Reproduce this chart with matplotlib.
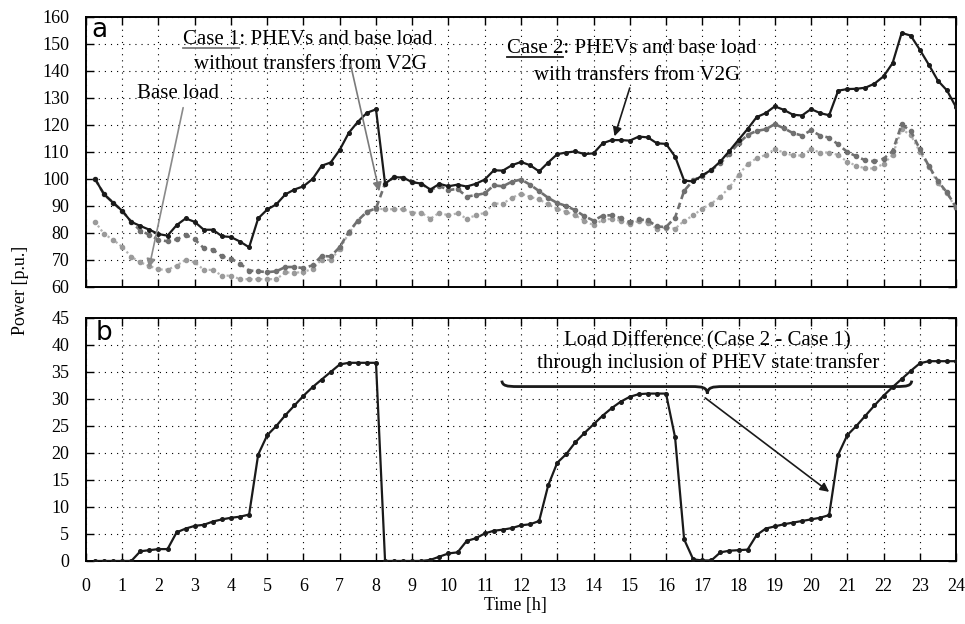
"""
PHEV load profiles: base load, case 1 (no V2G transfer), case 2 (with V2G transfer)
and the difference between case 2 and case 1.
"""

import numpy as np
import matplotlib
matplotlib.use("Agg")
import matplotlib.pyplot as plt
from matplotlib.lines import Line2D
from matplotlib.path import Path
from matplotlib.patches import PathPatch

# sample times, every 15 minutes
hours = np.arange(0.25, 24.01, 0.25)

# Case 2: PHEVs and base load with transfers from V2G (solid black)
case2 = [
    100.0, 94.3, 91.2, 88.2, 84.1, 82.6, 81.2, 79.6,
    79.0, 82.9, 85.4, 84.1, 81.2, 81.2, 78.8, 78.5,
    76.8, 74.7, 85.4, 88.7, 90.6, 94.3, 96.1, 97.3,
    100.0, 104.9, 106.1, 110.8, 117.1, 121.2, 124.5, 125.8,
    98.3, 100.7, 100.5, 98.8, 98.3, 96.1, 98.2, 97.3,
    97.9, 97.2, 98.2, 99.8, 103.2, 103.1, 105.1, 106.3,
    105.1, 102.8, 106.1, 109.2, 109.8, 110.2, 109.2, 109.5,
    113.2, 114.4, 114.4, 114.2, 115.7, 115.4, 113.2, 113.0,
    108.3, 99.4, 99.1, 101.3, 103.4, 106.5, 110.4, 114.5,
    118.5, 122.9, 124.4, 126.9, 125.6, 123.8, 123.5, 125.9,
    124.4, 123.6, 132.7, 133.3, 133.4, 133.8, 135.3, 138.0,
    142.9, 154.1, 153.1, 147.9, 142.3, 136.4, 132.8, 126.6,
]

# Case 1: PHEVs and base load without transfers from V2G (dashed grey)
case1 = [
    100.0, 94.3, 91.2, 88.2, 84.1, 80.9, 79.3, 77.5,
    76.9, 77.6, 79.3, 77.6, 74.4, 73.8, 71.3, 70.5,
    68.6, 66.1, 65.8, 65.5, 65.8, 67.4, 67.4, 67.0,
    68.0, 71.5, 71.3, 74.8, 80.4, 84.6, 87.9, 89.1,
    98.3, 100.7, 100.5, 98.8, 98.3, 95.9, 97.4, 95.9,
    96.3, 93.5, 94.0, 94.7, 97.6, 97.3, 99.0, 99.8,
    97.9, 95.5, 93.0, 91.1, 90.0, 88.4, 86.2, 84.6,
    86.4, 86.6, 85.5, 84.0, 85.0, 84.7, 82.4, 82.2,
    85.7, 95.6, 99.5, 101.2, 103.3, 105.8, 109.4, 113.2,
    116.3, 117.8, 118.4, 120.3, 118.8, 117.0, 116.1, 118.0,
    116.1, 115.3, 112.8, 110.0, 108.4, 106.9, 106.5, 107.5,
    110.3, 120.2, 117.8, 111.1, 104.8, 99.2, 95.0, 89.5,
]

# Base load (dotted light grey)
base_load = [
    84.2, 79.6, 77.5, 74.8, 71.2, 69.1, 67.8, 66.5,
    66.4, 67.9, 70.1, 69.1, 66.4, 66.3, 64.2, 64.2,
    62.9, 62.9, 62.9, 62.9, 62.9, 65.4, 65.3, 65.5,
    66.8, 70.1, 70.0, 74.1, 79.9, 84.5, 87.8, 89.0,
    88.8, 88.8, 88.8, 87.5, 87.5, 85.3, 87.5, 86.5,
    87.3, 85.3, 86.5, 87.5, 90.9, 90.9, 93.0, 94.6,
    93.4, 92.4, 90.6, 89.0, 87.8, 86.5, 84.5, 82.9,
    84.8, 85.3, 84.5, 83.2, 84.5, 83.8, 81.6, 82.0,
    81.6, 84.5, 86.5, 89.0, 90.9, 93.4, 96.9, 101.5,
    105.5, 107.7, 108.9, 111.0, 109.8, 108.7, 108.7, 111.0,
    109.8, 109.8, 108.9, 106.4, 104.9, 103.9, 103.9, 105.6,
    108.9, 118.4, 116.3, 110.1, 104.6, 98.4, 94.7, 89.1,
]

# Load difference (Case 2 - Case 1)
load_diff = [
    0.0, 0.0, 0.0, 0.0, 0.0, 1.8, 2.0, 2.2,
    2.2, 5.3, 6.0, 6.5, 6.7, 7.3, 7.7, 8.0,
    8.2, 8.6, 19.7, 23.3, 25.0, 27.0, 28.8, 30.6,
    32.2, 33.6, 35.0, 36.4, 36.7, 36.7, 36.7, 36.7,
    0.0, 0.0, 0.0, 0.0, 0.0, 0.2, 0.8, 1.4,
    1.6, 3.7, 4.2, 5.1, 5.6, 5.8, 6.1, 6.6,
    6.8, 7.4, 14.0, 18.2, 19.8, 22.0, 23.7, 25.3,
    26.9, 28.3, 29.5, 30.4, 30.9, 31.0, 31.0, 31.0,
    22.9, 4.0, 0.3, 0.1, 0.1, 1.6, 1.9, 2.0,
    2.1, 4.8, 6.0, 6.4, 6.8, 7.1, 7.4, 7.7,
    8.0, 8.5, 19.7, 23.3, 25.0, 26.9, 28.8, 30.6,
    32.2, 33.7, 35.2, 36.6, 37.0, 37.0, 37.0, 37.0,
]

plt.rcParams["font.family"] = "Liberation Serif"
FS = 15

fig = plt.figure(figsize=(9.65, 6.24), dpi=100)
ax1 = fig.add_axes([0.0891, 0.5401, 0.9016, 0.4327])
ax2 = fig.add_axes([0.0891, 0.101, 0.9016, 0.3894])

# --- top panel: load curves ---
ax1.plot(hours, base_load, color="#b4b4b4", ls=(0, (1, 1.2)), lw=1.6,
         marker="o", ms=3, mfc="#9a9a9a", mec="#9a9a9a", zorder=2)
ax1.plot(hours, case1, color="#707070", ls=(0, (2.5, 1.5)), lw=1.9,
         marker="o", ms=3, mfc="#707070", mec="#707070", zorder=3)
ax1.plot(hours, case2, color="#1a1a1a", lw=1.6,
         marker="o", ms=2.6, mfc="#1a1a1a", mec="#1a1a1a", zorder=4)

# --- bottom panel: difference ---
ax2.plot(hours, load_diff, color="#1a1a1a", lw=1.6,
         marker="o", ms=2.6, mfc="#1a1a1a", mec="#1a1a1a", zorder=4)

for ax in (ax1, ax2):
    ax.set_xlim(0, 24)
    ax.set_xticks(range(0, 25))
    ax.grid(True, color="black", ls=(0, (1, 4.5)), lw=0.8)
    ax.tick_params(direction="in", top=True, right=True, length=6, width=1,
                   labelsize=13)
    ax.tick_params(axis="y", pad=12)
    for sp in ax.spines.values():
        sp.set_linewidth(1.4)

ax1.set_ylim(60, 160)
ax1.set_yticks(range(60, 161, 10))
ax1.tick_params(labelbottom=False)

ax2.set_ylim(0, 45)
ax2.set_yticks(range(0, 46, 5))
ax2.tick_params(axis="x", pad=12)

ax1.text(0.006, 0.926, "a", transform=ax1.transAxes, family="DejaVu Sans",
         fontsize=19, va="baseline", ha="left")
ax2.text(0.011, 0.909, "b", transform=ax2.transAxes, family="DejaVu Sans",
         fontsize=19, va="baseline", ha="left")

fig.text(0.021, 0.535, "Power [p.u.]", rotation=90, ha="center", va="center", fontsize=13)
fig.text(0.534, 0.03, "Time [h]", ha="center", va="center", fontsize=13)

# --- annotations, top panel ---
c1_line1 = ax1.text(6.11, 150.0, "Case 1: PHEVs and base load", ha="center",
                    va="baseline", fontsize=FS)
ax1.text(6.18, 140.7, "without transfers from V2G", ha="center", va="baseline", fontsize=FS)
c2_line1 = ax1.text(15.06, 146.8, "Case 2: PHEVs and base load", ha="center",
                    va="baseline", fontsize=FS)
ax1.text(15.2, 136.8, "with transfers from V2G", ha="center", va="baseline", fontsize=FS)
ax1.text(2.54, 130.1, "Base load", ha="center", va="baseline", fontsize=FS)

arrow_kw = dict(arrowstyle="-|>", lw=1.2, shrinkA=0, shrinkB=0, mutation_scale=13)
ax1.annotate("", xy=(1.74, 67.1), xytext=(2.68, 126.4),
             arrowprops=dict(color="#8a8a8a", **arrow_kw), zorder=6)
ax1.annotate("", xy=(8.09, 95.4), xytext=(7.30, 142.3),
             arrowprops=dict(color="#7a7a7a", **arrow_kw), zorder=6)
ax1.annotate("", xy=(14.58, 115.8), xytext=(15.0, 133.7),
             arrowprops=dict(color="#1a1a1a", **arrow_kw), zorder=6)

# --- annotations, bottom panel ---
ax2.text(17.14, 40.0, "Load Difference (Case 2 - Case 1)", ha="center",
         va="baseline", fontsize=FS)
ax2.text(17.17, 35.7, "through inclusion of PHEV state transfer", ha="center",
         va="baseline", fontsize=FS)

# curly brace spanning the second charging period
xl, xr, xc = 11.47, 22.78, 17.14
ytop, ymid, ytip = 33.4, 32.3, 31.0
verts = [
    (xl, ytop), (xl + 0.02, ymid + 0.15), (xl + 0.12, ymid), (xl + 0.45, ymid),
    (xc - 0.45, ymid),
    (xc - 0.12, ymid), (xc - 0.02, ymid - 0.15), (xc, ytip),
    (xc + 0.02, ymid - 0.15), (xc + 0.12, ymid), (xc + 0.45, ymid),
    (xr - 0.45, ymid),
    (xr - 0.12, ymid), (xr - 0.02, ymid + 0.15), (xr, ytop),
]
codes = [Path.MOVETO, Path.CURVE4, Path.CURVE4, Path.CURVE4,
         Path.LINETO,
         Path.CURVE4, Path.CURVE4, Path.CURVE4,
         Path.CURVE4, Path.CURVE4, Path.CURVE4,
         Path.LINETO,
         Path.CURVE4, Path.CURVE4, Path.CURVE4]
ax2.add_patch(PathPatch(Path(verts, codes), fill=False, lw=2.0, color="#1a1a1a", zorder=5))
ax2.annotate("", xy=(20.5, 12.8), xytext=(17.08, 30.2),
             arrowprops=dict(color="#1a1a1a", **arrow_kw), zorder=6)


def underline_prefix(ax, txt, prefix, color):
    renderer = fig.canvas.get_renderer()
    bb = txt.get_window_extent(renderer)
    probe = ax.text(0, 0, prefix, fontsize=FS)
    w = probe.get_window_extent(renderer).width
    probe.remove()
    base_y = ax.transData.transform(txt.get_position())[1]
    inv = fig.transFigure.inverted()
    x0, y0 = inv.transform((bb.x0, base_y - 4))
    x1, _ = inv.transform((bb.x0 + w, base_y - 4))
    fig.add_artist(Line2D([x0, x1], [y0, y0], color=color, lw=1.3))


fig.canvas.draw()
underline_prefix(ax1, c1_line1, "Case 1", "#7a7a7a")
underline_prefix(ax1, c2_line1, "Case 2", "#1a1a1a")

plt.savefig("out.png", dpi=100)
